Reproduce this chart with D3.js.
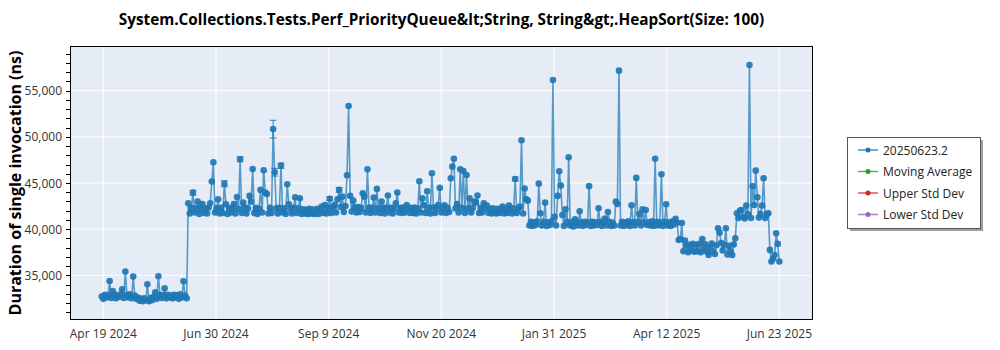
<!DOCTYPE html>
<html><head><meta charset="utf-8">
<script src="https://cdn.jsdelivr.net/npm/d3@7"></script>
<style>body{margin:0;background:#fff;} svg{display:block;font-family:"Open Sans","Noto Sans",sans-serif;}</style>
</head><body><svg id="c" width="1000" height="350"></svg>
<script>
// ---------------- data ----------------
const chartTitle = "System.Collections.Tests.Perf_PriorityQueue&lt;String, String&gt;.HeapSort(Size: 100)";
const yTitle = "Duration of single invocation (ns)";
const seriesName = "20250623.2";
const firstDay = "2024-04-18T12:00:00"; // one measurement per day from here
const apr2024 = [32700,32450,32900,32600,32850,34390,32550,33300,32950,32500,32800,32650,32950];
const may2024 = [33490,32550,35400,32900,32600,32950,32500,34860,32800,32450,32600,32250,32450,32200,32500,32300,34030,32200,32550,32300,32650,33170,32450,34900,32900,32550,32850,33600,32500,32900,32600];
const jun2024 = [32800,32500,32900,32600,32850,32450,32950,32600,34360,32800,32500,42800,41700,42300,43955,41800,42250,42980,41650,42300,42730,41750,42200,41700,42350,42800,45150,47250,41800,42250];
const jul2024 = [43240,41700,42300,41750,44900,42700,41650,42250,41800,42300,42730,41700,43490,42200,47580,41750,42870,42300,41700,42250,43600,42980,46520,41750,42300,41650,42200,44250,41800,46370,43960];
const aug2024 = [43800,41700,42300,41750,50850,46160,42250,41700,42300,46880,41800,42250,41650,44860,42700,42200,41700,42300,43460,41750,42250,43350,41650,42150,41700,42100,41650,42200,41700,42150,41650];
const sep2024 = [41700,42200,41650,42150,42450,41750,42600,41700,42300,43300,41750,42350,42650,41800,43240,44250,42400,43520,41850,42500,45830,53340,43600,41900,43090,42350,41800,42400,41850,42300];
const oct2024 = [43880,43520,41800,46480,42350,41750,42300,43420,41800,44360,42300,41750,42980,42250,41700,42350,43640,41800,42300,41700,42250,42800,43960,41800,42300,41750,42350,41800,42620,42250,41750];
const nov2024 = [42300,41750,42350,41700,42250,45190,41800,43350,42580,41750,44100,42300,41700,46050,42350,41750,42250,42620,44470,41800,42300,42580,41750,42300,41850,45510,46770,47620,42250,42730];
const dec2024 = [41800,46480,42300,46300,41750,45870,42250,43350,41800,42300,42980,42870,43640,41750,42300,41800,42800,42250,42550,41750,42200,41700,42250,41800,41700,42200,41750,42150,42440,41700,42150];
const jan2025 = [41750,42550,42200,41700,42250,45430,41750,42200,42440,49630,41700,44400,43240,43090,40400,40800,40350,40750,40450,40850,44930,41720,40400,40800,42870,40350,40750,40450,40850,56160,41350];
const feb2025 = [40400,43600,46270,44720,41540,40350,42150,40800,47780,40400,40750,40300,41080,40800,40400,41940,40750,40350,40800,40450,40750,44660,40350,40800,40400,40750,40450,42260];
const mar2025 = [40800,40350,40750,41150,40400,41860,40800,40350,40700,40400,42980,42730,57170,40400,40800,40350,40750,40450,40850,40350,42580,40750,40400,45550,40800,41650,40400,42150,40750,42080,40450];
const apr2025 = [40750,40400,40850,40350,47630,40800,40400,40750,45940,40350,40800,42700,40400,40750,40350,40850,40500,41110,40700,38830,38940,40670,37600,38760,38200,37500,38300,37700,38400,37550];
const may2025 = [38300,37600,38400,37500,38940,37800,38350,37550,37200,38100,38450,37600,37300,38250,40100,39620,38500,37700,38300,40100,37250,38200,37600,37200,38350,39020,41720,41200,42010,42080,41350];
const jun2025 = [41150,42550,41600,57780,41200,44650,42620,46340,43450,41250,41650,42550,45510,41200,41600,41720,37750,36500,36800,37200,39560,38400,36500];
// error bars (day index from firstDay, low, high)
const errDay  = [58, 78, 88, 109, 110, 114, 145, 151, 263];
const errLow  = [43700, 44600, 47300, 49880, 45750, 46580, 43100, 44000, 45200];
const errHigh = [44200, 45250, 47850, 51790, 46580, 47150, 43500, 44500, 45650];
const xTickDates = ["2024-04-19T12:00","2024-06-30T04:00","2024-09-09T20:00","2024-11-20T12:00","2025-01-31T04:00","2025-04-12T20:00","2025-06-23T12:00"];
const yTickValues = [35000,40000,45000,50000,55000];
const legendNames = ["20250623.2","Moving Average","Upper Std Dev","Lower Std Dev"];

// ---------------- styles / layout ----------------
const legendColors = ["#1f77b4","#2ca02c","#d62728","#9467bd"];
const L = 70, R = 813, T = 46, B = 320;
const svg = d3.select("#c");

const values = [].concat(apr2024,may2024,jun2024,jul2024,aug2024,sep2024,oct2024,nov2024,dec2024,jan2025,feb2025,mar2025,apr2025,may2025,jun2025);
const start = new Date(firstDay);
const data = values.map((v,i)=>({date:d3.timeDay.offset(start,i), v}));

const x = d3.scaleTime().domain([new Date("2024-03-29T07:00"), new Date("2025-07-14T22:00")]).range([L,R]);
const y = d3.scaleLinear().domain([30157,59843]).range([B,T]);

// background
svg.append("rect").attr("x",L).attr("y",T).attr("width",R-L).attr("height",B-T).attr("fill","#e5ecf6");

// grid
const xt = xTickDates.map(s=>new Date(s));
svg.append("g").selectAll("line").data(xt).join("line")
  .attr("x1",d=>x(d)).attr("x2",d=>x(d)).attr("y1",T).attr("y2",B)
  .attr("stroke","#fff").attr("stroke-width",1);
svg.append("g").selectAll("line").data(yTickValues).join("line")
  .attr("x1",L).attr("x2",R).attr("y1",d=>y(d)).attr("y2",d=>y(d))
  .attr("stroke","#fff").attr("stroke-width",1);

// series
const plot = svg.append("g");
plot.append("path").datum(data)
  .attr("d", d3.line().x(d=>x(d.date)).y(d=>y(d.v)))
  .attr("fill","none").attr("stroke","#1f77b4").attr("stroke-opacity",0.72).attr("stroke-width",1.6);
const eb = plot.append("g").attr("stroke","#1f77b4").attr("stroke-opacity",0.75).attr("stroke-width",1.2);
errDay.forEach((d,k)=>{
  const cx = x(d3.timeDay.offset(start,d));
  eb.append("line").attr("x1",cx).attr("x2",cx).attr("y1",y(errLow[k])).attr("y2",y(errHigh[k]));
  [errLow[k],errHigh[k]].forEach(v=>eb.append("line").attr("x1",cx-3.5).attr("x2",cx+3.5).attr("y1",y(v)).attr("y2",y(v)));
});
plot.append("g").selectAll("circle").data(data).join("circle")
  .attr("cx",d=>x(d.date)).attr("cy",d=>y(d.v)).attr("r",3.3)
  .attr("fill","#1f77b4").attr("fill-opacity",0.92);

// frame
svg.append("rect").attr("x",L+0.5).attr("y",T+0.5).attr("width",R-L-1).attr("height",B-T-1)
  .attr("fill","none").attr("stroke","#000").attr("stroke-width",1);

// y axis ticks
const minor = d3.range(31000,59001,1000);
svg.append("g").selectAll("line").data(minor).join("line")
  .attr("x1",L-4).attr("x2",L).attr("y1",d=>Math.round(y(d))+0.5).attr("y2",d=>Math.round(y(d))+0.5)
  .attr("stroke","#000").attr("stroke-width",1);
const fmt = d3.format(",");
svg.append("g").selectAll("text").data(yTickValues).join("text")
  .attr("x",62).attr("y",d=>y(d)).attr("text-anchor","end").attr("dominant-baseline","central")
  .attr("font-size",12).attr("fill","#333").text(d=>fmt(d));

// x labels
const xf = d3.timeFormat("%b %-d %Y");
svg.append("g").selectAll("text").data(xt).join("text")
  .attr("x",d=>x(d)).attr("y",333).attr("text-anchor","middle").attr("dominant-baseline","central")
  .attr("font-size",12).attr("fill","#333").text(d=>xf(d));

// titles
svg.append("text").attr("x",(L+R)/2).attr("y",19).attr("text-anchor","middle").attr("dominant-baseline","central")
  .attr("font-size",15.3).attr("font-weight","bold").attr("fill","#000").text(chartTitle);
svg.append("text").attr("transform",`translate(15,${(T+B)/2}) rotate(-90)`).attr("text-anchor","middle")
  .attr("dominant-baseline","central").attr("font-size",16).attr("font-weight","bold").attr("fill","#000").text(yTitle);

// legend
const lg = svg.append("g");
lg.append("rect").attr("x",850).attr("y",140).attr("width",133).attr("height",91).attr("fill","#a0a0a0");
lg.append("rect").attr("x",847.5).attr("y",137.5).attr("width",133).attr("height",91).attr("fill","#fff").attr("stroke","#555");
legendNames.forEach((n,k)=>{
  const ly = 150 + k*21.5;
  lg.append("line").attr("x1",858).attr("x2",878).attr("y1",ly).attr("y2",ly).attr("stroke",legendColors[k]).attr("stroke-opacity",0.8).attr("stroke-width",1.5);
  lg.append("circle").attr("cx",868).attr("cy",ly).attr("r",2.5).attr("fill",legendColors[k]);
  lg.append("text").attr("x",883).attr("y",ly).attr("dominant-baseline","central").attr("font-size",12).attr("fill","#222").text(n);
});
</script></body></html>
